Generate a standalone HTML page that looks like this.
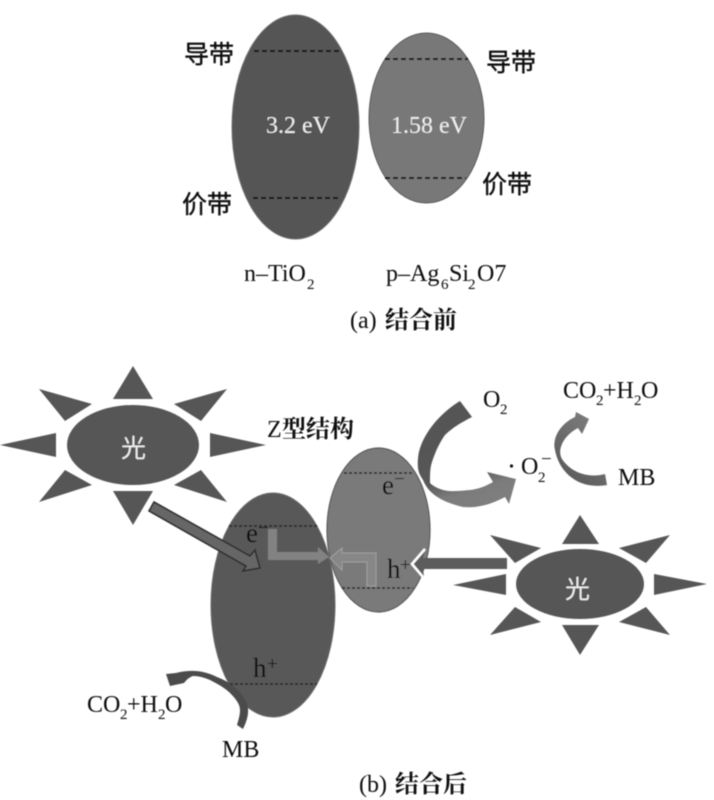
<!DOCTYPE html>
<html>
<head>
<meta charset="utf-8">
<style>
html,body{margin:0;padding:0;background:#fff;width:714px;height:800px;overflow:hidden}
svg{display:block}
.t{font-family:"Liberation Serif","Noto Serif CJK SC",serif;font-size:24px;fill:#0a0a0a}
.b{font-size:27px}
.w{fill:#eee}
.s{font-family:"Liberation Serif",serif;font-size:15px;fill:#0a0a0a}
.p{font-family:"Liberation Serif",serif;font-size:19px;fill:#0a0a0a}
.c{font-family:"Noto Sans CJK SC","Liberation Sans",sans-serif;font-size:25px;font-weight:400;fill:#0a0a0a;stroke:#0a0a0a;stroke-width:.4}
.z{font-family:"Noto Serif CJK SC","Liberation Serif",serif;font-size:24px;font-weight:700;fill:#0a0a0a}
</style>
</head>
<body>
<svg width="714" height="800" viewBox="0 0 714 800" xmlns="http://www.w3.org/2000/svg">
<defs>
<filter id="b" x="-5%" y="-5%" width="110%" height="110%"><feGaussianBlur stdDeviation="0.45"/></filter>
<linearGradient id="g1" gradientUnits="userSpaceOnUse" x1="432" y1="440" x2="452" y2="506"><stop offset="0" stop-color="#545454"/><stop offset="0.62" stop-color="#5a5a5a"/><stop offset="0.85" stop-color="#7a7a7a"/><stop offset="1" stop-color="#7e7e7e"/></linearGradient>
<linearGradient id="g2" x1="0" y1="1" x2="0.6" y2="0"><stop offset="0" stop-color="#555"/><stop offset="1" stop-color="#7c7c7c"/></linearGradient>
</defs>
<g filter="url(#b)">
<!-- top ellipses -->
<ellipse cx="295.5" cy="127" rx="63.5" ry="112" fill="#545454" stroke="#6e6e6e" stroke-width="1"/>
<ellipse cx="426.5" cy="118" rx="57.5" ry="85" fill="#787878" stroke="#5a5a5a" stroke-width="1"/>
<g stroke="#111" stroke-width="2" stroke-dasharray="5 3" fill="none">
<path d="M254 51H340M253 198H338M385 59H468M385 178H466"/>
</g>
<!-- sun 1 -->
<g fill="#575757">
<ellipse cx="133" cy="445" rx="66" ry="40"/>
<polygon points="133,366 113,399 153,399"/>
<polygon points="210,433 266,445 210,457"/>
<polygon points="56,433 0,445 56,457"/>
<polygon points="113,491 153,491 133,525"/>
<polygon points="39,389 92,404 65,421"/>
<polygon points="227,389 174,404 201,421"/>
<polygon points="39,502 92,485 65,470"/>
<polygon points="227,502 174,485 201,470"/>
</g>
<!-- sun 2 -->
<g fill="#575757">
<ellipse cx="580" cy="584" rx="64" ry="35"/>
<polygon points="580,515 562,544 599,544"/>
<polygon points="654,574 707,584 654,595"/>
<polygon points="506,574 453,585 506,595"/>
<polygon points="562,625 599,625 580,655"/>
<polygon points="490,535 541,548 515,563"/>
<polygon points="670,535 619,548 646,563"/>
<polygon points="490,635 541,622 515,607"/>
<polygon points="670,635 619,622 646,607"/>
</g>
<!-- bottom ellipses -->
<ellipse cx="273" cy="605" rx="62" ry="112" fill="#585858" stroke="#6a6a6a" stroke-width="1"/>
<ellipse cx="378.5" cy="530" rx="51.5" ry="82" fill="#7a7a7a" stroke="#5c5c5c" stroke-width="1.2"/>
<g stroke="#222" stroke-width="1.6" stroke-dasharray="3 2" fill="none">
<path d="M229 526H317M230 684H317M342 588H413M344 473H414"/>
</g>
<!-- sun→ellipse arrow -->
<polygon points="154,502 149,511 246,566 243,571 260,568 255,550 250,556" fill="#666" stroke="#2e2e2e" stroke-width="1.6"/>
<!-- elbow arrows -->
<polygon points="268,529 277,529 277,552 318,552 318,547 329,557 318,564 318,560 268,560" fill="#828282"/>
<polygon points="376,586 367,586 367,562 342,562 342,570 330,558 342,548 342,553 376,553" fill="#878787" stroke="#a0a0a0" stroke-width="1"/>
<!-- arrow from sun 2 -->
<polygon points="507,558 507,569 423,569 424,577 412,564 425,550 423,558" fill="#5b5b5b"/>
<polyline points="425,549 412,564 423,577" fill="none" stroke="#fff" stroke-width="2.5"/>
<!-- big curved arrow -->
<path d="M460,401 C440,413 420,436 418,458 C417,470 419,474 423,480 C428,492 438,501 463,507 C475,508 488,506 505,497 L509,504 L516,479 L487,472 L493,482 C484,487 478,489 470,490 C460,491 450,492 443,490 C437,488 433,486 430,483 C430,474 430,468 432,462 C436,450 440,442 445,435 C452,428 462,422 472,417 Z" fill="url(#g1)"/>
<!-- small curved arrow -->
<path d="M607,485 L605,474 C590,478 572,474 562,459 C556,448 566,434 578,428 L582,434 L589,419 L576,412 L575,417 C560,424 552,438 555,450 C559,472 578,490 607,485 Z" fill="url(#g2)"/>
<!-- lower-left curved arrow -->
<path d="M243,729 C250,715 249,706 245,700 C240,690 230,682 217,677 C205,671 192,669 176,673 L166,674 L170,686 L184,683 C187,679 190,677 193,676 C200,676 205,678 210,680 C220,685 226,689 230,693 C237,700 240,705 240,710 C240,716 238,721 237,725 Z" fill="#4c4c4c"/>
<!-- text top -->
<text class="c" x="184" y="63">导带</text>
<text class="c" x="182" y="213">价带</text>
<text class="c" x="486" y="71">导带</text>
<text class="c" x="482" y="193">价带</text>
<text class="t w" x="266" y="133">3.2 eV</text>
<text class="t w" x="391" y="133">1.58 eV</text>
<text class="t" x="244" y="281">n–TiO</text>
<text class="s" x="307" y="289">2</text>
<text class="t" x="386" y="281">p–Ag</text>
<text class="s" x="441" y="289">6</text>
<text class="t" x="449" y="281">Si</text>
<text class="s" x="468" y="289">2</text>
<text class="t" x="477" y="281">O7</text>
<text class="t" x="350" y="328">(a)</text>
<text class="z" x="385" y="328">结合前</text>
<!-- text bottom -->
<text class="t" x="267" y="437">Z</text>
<text class="z" x="282" y="437">型结构</text>
<text x="121" y="457" class="c" style="fill:#eee;stroke:none">光</text>
<text x="565" y="598" class="c" style="fill:#eee;stroke:none">光</text>
<text class="t" x="483" y="407">O</text>
<text class="s" x="500" y="414">2</text>
<text class="t" x="563" y="398">CO</text>
<text class="s" x="596" y="405">2</text>
<text class="t" x="603" y="398">+H</text>
<text class="s" x="634" y="405">2</text>
<text class="t" x="641" y="398">O</text>
<circle cx="511.5" cy="466" r="1.6" fill="#111"/>
<text class="t" x="521" y="474">O</text>
<text class="s" x="538" y="482">2</text>
<text class="p" x="541" y="465">−</text>
<text class="t" x="618" y="485">MB</text>
<text class="t b" x="382" y="494">e</text>
<text class="p" x="394" y="485">−</text>
<text class="t b" x="246" y="542">e</text>
<text class="p" x="258" y="534">−</text>
<text class="t b" x="387" y="578">h</text>
<text class="p" x="400" y="571">+</text>
<text class="t b" x="253" y="677">h</text>
<text class="p" x="267" y="670">+</text>
<text class="t" x="87" y="712">CO</text>
<text class="s" x="120" y="719">2</text>
<text class="t" x="127" y="712">+H</text>
<text class="s" x="158" y="719">2</text>
<text class="t" x="165" y="712">O</text>
<text class="t" x="222" y="757">MB</text>
<text class="t" x="359" y="792">(b)</text>
<text class="z" x="395" y="792">结合后</text>
</g>
</svg>
</body>
</html>
